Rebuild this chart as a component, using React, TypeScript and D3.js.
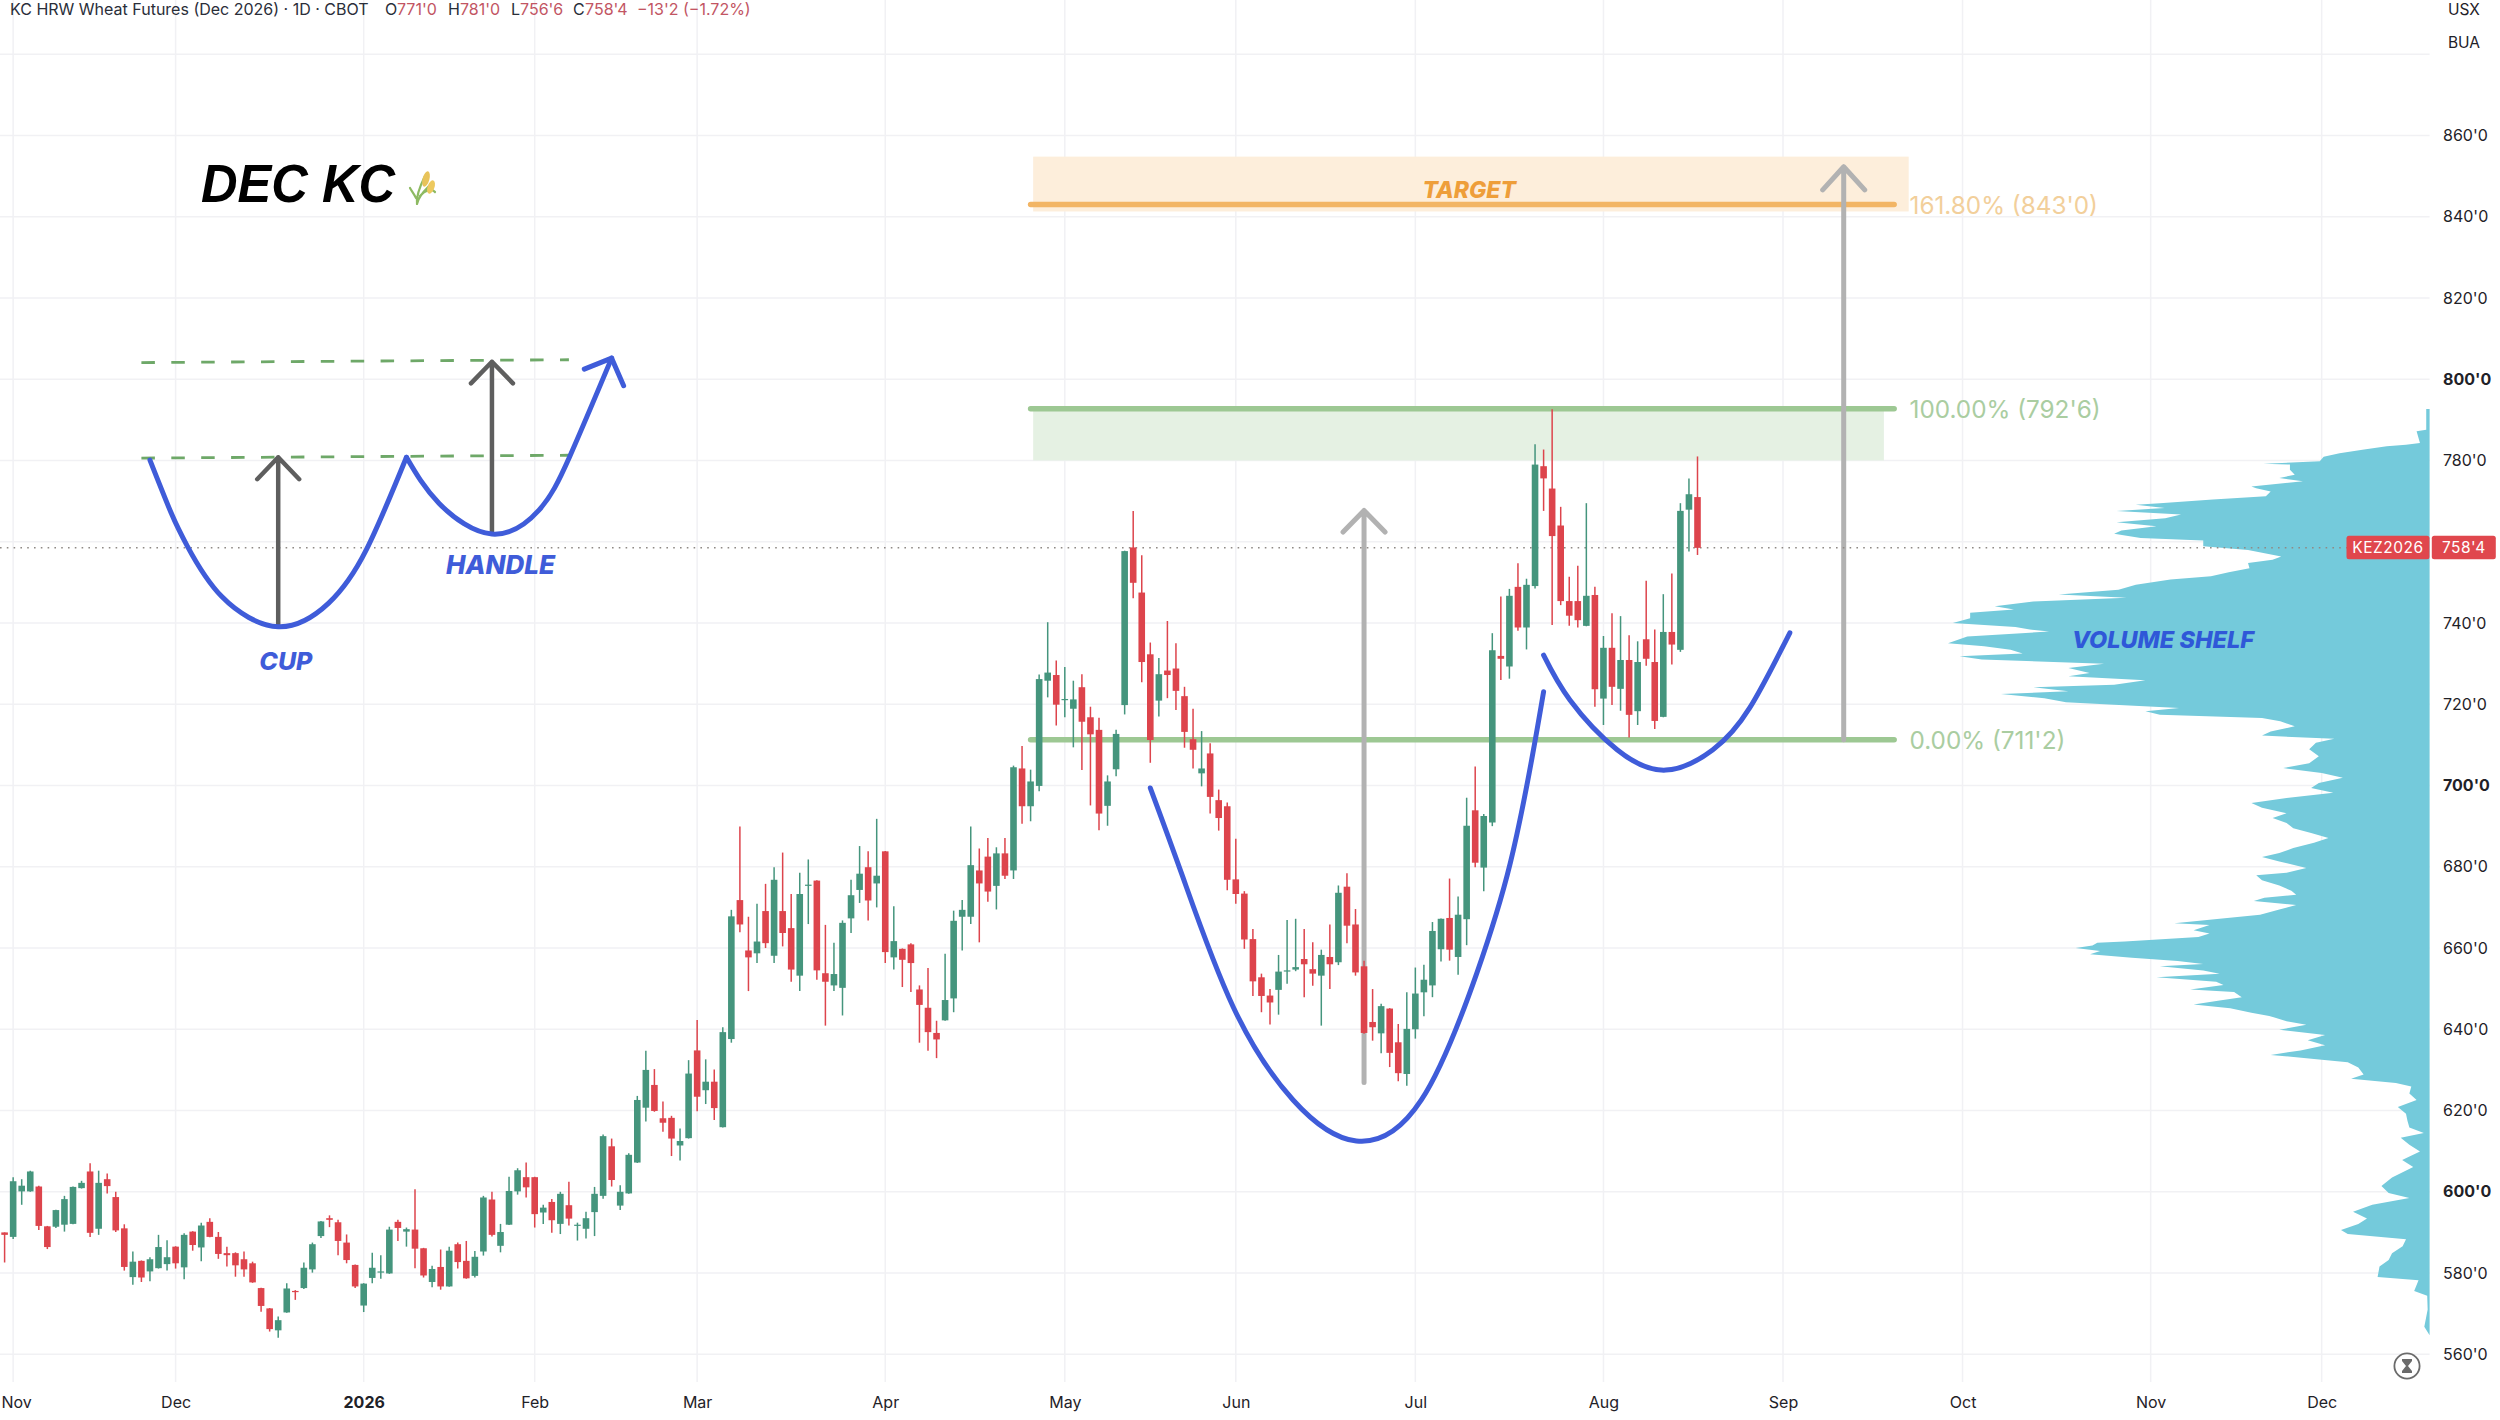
import { useEffect, useRef } from 'react';
import * as d3 from 'd3';

// daily candles, Oct 31 2025 -> last bar
const opens = [
  590,588.9,600.1,600.1,601.3,591.5,591.4,591.9,592.1,600.9,
  605,590.9,603.1,598.7,591,579,583,580.4,581.2,582.2,
  586.5,581.4,590.2,586.3,592.6,588.9,584.9,584.9,583.4,582.4,
  576.3,571.3,565.9,570.3,575.6,576.3,580.9,589.1,593.5,592.5,
  587.5,582,572,578.8,580.3,579.9,592.6,590.2,590.7,586.1,
  577.8,581.5,576.7,587.1,583,579.3,585.3,598.1,586.7,591.9,
  600.1,603.6,603.6,594.9,597.5,592.1,596.7,591.7,590.9,595,
  599,611.2,596.6,599.6,607.2,620.7,626.3,618.1,618.2,611.4,
  613.2,634.8,625,627.1,615.9,637.6,671.8,659.4,658.7,669.1,
  658.1,669.1,664.9,653.2,675.5,676.6,653.8,650.8,650.2,667.3,
  674.3,679.9,675.9,683.8,657.7,659.8,660.9,649.8,645.3,639.1,
  642.2,647.6,667.7,667.7,679.1,682.5,675.3,683.3,679.1,704.2,
  694.9,699.9,725.8,727.2,721.2,718.9,724.2,716.8,713.7,695,
  704,719.8,758.6,747.5,732.3,720.9,728.3,728.8,722,711.4,
  703,707.9,696.4,694.9,676.9,673.4,662.2,652.8,648.3,649.7,
  654.3,654.7,657.3,654.8,653.2,657.8,656.5,675.1,665.8,655.5,
  641.8,639,645.1,636.8,629,640,649.1,650.8,659.7,667.4,
  657.8,667.1,693.9,679.8,690.9,731.9,729.3,748.9,738.9,749.1,
  778.6,773.1,764,745.4,745.4,739.3,746.9,721.4,733.9,723.8,
  730.9,718.3,736,730.4,716.9,737.8,733.4,767.9,771,
];
const highs = [
  590,603.6,603.1,605.2,601.5,591.6,595.6,599,601.3,602.7,
  607,605.2,604.5,600,592,585.3,583.1,583.9,589.4,588.1,
  586.6,589.8,590.3,592.4,593.5,590.1,586.5,585.1,585.3,582.8,
  576.4,571.4,569.3,577.5,575.8,582.6,587.5,592.8,594.2,593.1,
  589.5,582.1,577.5,585,584.4,591.4,593.1,591.2,600.6,586.2,
  581.8,585.8,586.5,587.5,587.9,585.4,599,600,592.1,603.7,
  605.8,607.2,603.7,596.8,598.2,600,602.5,592.4,595.1,601.2,
  614.1,613.1,601.6,609.5,623.6,634.7,630.2,622.2,618.7,615.6,
  632.4,642.3,632.6,630.1,640.5,669.4,689.9,667.7,670.9,675.8,
  679.9,683.5,673.3,678.5,681.8,676.7,665.7,661.3,666.8,676.8,
  685.1,683.8,691.8,683.9,670.3,659.9,661.2,650.8,655.1,642.1,
  658.6,669.2,671.8,689.9,684.5,687.1,684.8,687.1,704.9,709.7,
  703.9,727.3,740.2,730.8,729.2,725.8,727.4,719.4,716.7,702.5,
  713.7,757.8,767.6,756.7,735.2,731.4,740.5,735,724.3,718.9,
  713.4,710.4,699,695.8,686.9,674,664.7,653.7,649.9,658.3,
  666.9,667.2,664.7,661.4,659.6,665.8,675.4,678.4,669.6,656.9,
  649.9,646.3,645.2,641.3,649.1,655.2,655.9,666.4,667.3,677.1,
  672.7,697,704.7,693,737.5,746.5,748.4,754.7,750.9,784,
  782.7,792.6,768.6,751.4,754.1,769.5,748.9,736.8,742.4,741.7,
  737,735.5,750.4,738.4,747.1,752.2,769.5,775.6,781,
];
const lows = [
  582.6,588.4,596.8,600,590.6,585.9,591.1,590.2,592,600.8,
  588.9,589.4,599.6,590.1,580.6,577.1,577.8,578,581.1,580.6,
  581.1,578.5,585.5,582.9,588.8,583.5,581.6,579.1,579.1,577.6,
  570.5,565.6,564.1,570.2,573.4,576.1,580.1,588.6,591.3,584.4,
  582.4,576.3,570.4,577.5,578.6,579.8,587.9,586.5,581.2,578.9,
  576.5,575.9,576.6,581.1,578.6,578.9,584.3,589,585.1,591.8,
  599.3,598.6,591.2,592.1,589.9,589.6,591.7,588,588.5,589.1,
  598.3,601.3,595.5,599.5,607.1,617.3,619.7,614.8,608.8,607.7,
  613.1,619.8,621.6,617.7,615.8,636.7,663.9,649.4,656.3,660,
  656.3,660.4,651.7,649.4,665.9,652.2,640.9,649.4,643.4,663.7,
  671.1,666.8,670,656.3,654.7,650.4,649.2,636.7,634.7,632.9,
  642.1,644.2,659.4,665.9,661.4,671.4,669.5,677,677,690.6,
  691.2,698.6,721.7,714.8,716.8,709.4,703.8,695.1,689,690.1,
  702.3,717.5,746.1,725.4,705.6,717,721.5,718.6,709.3,704.2,
  699.8,693.1,688.9,674.2,670.9,659.8,648.2,644.2,641.2,643.6,
  651.2,654.3,647.9,650.7,640.9,649.9,655.8,661.2,653.2,638.9,
  637.2,634.1,630.7,627.2,626.1,637.7,643.2,647.9,656.7,656.9,
  653.4,660.7,679.9,674,690,726,726.3,738.1,733.5,748.5,
  767.6,739.5,744.4,739.3,738.9,739.2,719.4,714.9,719.8,718.4,
  711.8,714.9,729.5,713.9,716.8,729.8,732.9,757.6,756.75,
];
const closes = [
  589.4,602.6,601.5,605,591.6,586.4,595.5,598.2,601.2,602.2,
  589.9,602.2,601.4,590.5,581.5,582.8,578.9,583.4,586.4,583.9,
  582.4,589.4,586.9,591.7,588.9,584.7,584.4,581.9,580.9,577.7,
  571.9,566.2,568.4,576.2,575.3,581.3,587.1,592.7,593.1,587.9,
  583.2,576.7,577.4,581.3,580.4,590.7,591.1,590.8,586,579.4,
  581,576.7,585.5,582.7,578.7,584,598.6,589.4,590.1,600.2,
  605.3,601.1,594.5,596.1,593,599.5,593.4,591.9,593.5,599.5,
  613.7,602.9,600,609.1,622.6,630,619.9,617,613.1,612.5,
  629.1,623.4,627.1,620.6,639.3,667.8,665.8,657.7,661.6,661.2,
  676.8,663.7,654.7,673.3,675.6,654.5,651.7,653.6,666.2,673,
  678.3,671.7,677.8,659,661.7,657.1,656.3,646,639.3,637.5,
  647.2,666.7,669.4,680.4,675.9,673.9,683.3,677.8,704.5,694.9,
  701,726.2,727.8,719.9,721.3,721.2,715.7,712.6,693.1,701,
  712.7,757.7,749.9,730.4,711.2,727.4,727.2,723.3,713.2,708.8,
  704.2,697.2,692,676.8,673.3,662.1,651.8,648.2,646.6,654.2,
  654.5,655.3,656,653.7,658.3,656,673.6,665.5,654,639.1,
  640.5,645.7,634.2,629.2,640.1,648.8,652.2,664.2,667.2,659.6,
  668.2,690.1,681,692.5,733.3,731.2,746.7,738.9,749.4,779,
  775.6,761.4,745.4,741.8,740.7,746.7,723.7,733.9,724.3,730.9,
  717.4,730.4,731.2,715.9,737.8,734.7,767.6,771.7,758.5,
];

// volume profile, top to bottom (100 = widest row)
const profilePrices = [
  792.7,787.6,787.2,784.3,783.9,783.5,782.7,781.8,780.9,779.8,779.2,779,777.7,776.5,775.7,774.9,773.6,773.2,772.4,771.2,
  770.4,769.5,769.1,768.3,767.6,766.7,765.8,764.8,763.8,762.8,762,760.9,760.3,758.9,758,756.4,755.6,754.8,753.5,752.5,
  751.5,750.7,749.4,748.2,747,746.2,745.3,744.1,743.3,742.5,741.2,740,739,738.4,737.9,736.7,735,734.3,733.4,732.5,
  731.8,731,730,728.9,727.7,726.9,725.9,724.8,724.2,723.2,722.5,721.5,720.5,719.9,719.1,718.3,717.4,716.6,715.8,714.6,
  713.3,712.3,711.5,710.5,708.9,707.2,705.5,704.3,703.1,701.9,700.6,699.4,698.2,696.9,695.7,694.5,693.2,692,690.8,689.5,
  688.3,687.1,685.9,684.6,683.4,682.4,681.3,679.7,678.5,677.9,676.7,675.4,674.1,673.1,672.4,671.6,670.6,669.5,668.2,667.2,
  666.1,665.7,664.4,663.6,662.7,661.6,661.3,660.6,660,659.3,658.5,657.6,656.8,656.1,655.5,654.5,653.7,652.8,651.7,650.9,
  649.8,649.2,647.9,647.1,646.1,645.2,644.1,643.3,642,641.1,639.9,638.6,637.3,636.1,634.8,633.7,632.7,631.9,630.6,628.9,
  627.8,626.8,625.9,624.2,622.6,620.9,619.2,617.5,615.8,614.5,613.3,611.6,609.9,607.8,606.1,603.5,601.4,599.7,598.5,596.8,
  595.1,593.4,592.1,590.6,589.6,588.3,586.6,584.9,583.2,581.6,579,578.2,575.6,574.4,571,566.8,564.7,
];
const profileVolumes = [
  0.7,0.7,2.7,2,4.9,8.9,13.6,18.7,22,22.8,34.5,29,29,28,31.2,26.3,37,36,33,34,
  45,56,61,55,65,51.6,54.9,65,56.7,64,65.5,60,47,47,37.7,30.8,32.6,37.7,37.4,41.7,
  45.4,53.8,61,64.6,77,62.9,82.3,90.3,86.3,95.4,95.4,99,86,83,79,96,100,92.5,87,84.5,
  97.6,93,67.6,75,70.6,75,59,65.5,82.3,75,89,80,75.5,65.5,52,59,56,34.8,31,28,
  33,34.8,19.8,23.6,25,23,25,30.4,22.4,18,23,24.6,20,29.7,37,34.8,29.7,32.6,29.7,28.3,
  24.6,21,24,28.3,31.2,34.8,31.2,25.6,29.7,36,34.8,31.2,28.7,27.7,34.3,36.5,27.7,31.2,35.2,43.6,
  53,45.7,49,45.7,48,63.3,69,70,73.5,68.4,70.5,61.8,52.3,47,56,47,43.6,56.7,44.3,42.8,
  49.7,40.6,39,43.6,49,41.4,37,33.3,29.7,25.6,31.2,21.7,25.3,21.7,26.8,33,24,17,14.8,13.7,
  16.3,7,3.8,4.2,2.7,6.6,4.9,4.6,4.2,1.2,6,4.2,2,5.7,3.4,7.8,10,8.5,4.2,11.9,
  15.9,13,14.8,18.4,17,4.9,5.6,7.8,8.5,10.4,10.8,2.3,3.2,0.5,0.4,1.1,0,
];

// axis ticks
const priceTicks = [560,580,600,620,640,660,680,700,720,740,760,780,800,820,840,860,880];
const priceLabels = [560,580,600,620,640,660,680,700,720,740,780,800,820,840,860];
const boldPrices = [600,700,800];
const monthIndex = [1,20,42,62,81,103,124,144,165,187,208,229,251,271];
const monthLabels = ['Nov','Dec','2026','Feb','Mar','Apr','May','Jun','Jul','Aug','Sep','Oct','Nov','Dec'];

// drawings, as [bar index, price]
const bigCup = [[134,699.4],[137.8,677.5],[143.7,645.5],[150.7,622.6],[158.1,612.5],[165.7,622.6],[172.2,653.9],[176.1,680.9],[178.6,706.3],[180,723.1]];
const bigHandle = [[180,732.1],[183.1,721],[188.6,708.8],[194.3,703.8],[199.8,708.8],[204.1,719.1],[208.8,737.6]];
const miniCup = [[17,780.1],[19.5,767],[21.4,758.8],[25.4,746.5],[32,739.1],[37.9,744.9],[42.3,758],[47,780.8]];
const miniHandle = [[47,780.8],[50.8,769.5],[57,761.9],[62.5,767.8],[66.1,781],[71,805.2]];
const miniHead = [[67.8,802.5],[71,805.2],[72.4,798.4]];
const miniDashes = [[[16,780.6],[66,781.3]],[[16,804.1],[66,804.8]]];
const grayArrows = [
  { i: 159, from: 626.9, to: 767.7, wing: 762.4 },
  { i: 215.1, from: 711.25, to: 852.3, wing: 846.6 },
];
const darkArrows = [
  { i: 32, from: 739.5, to: 780.8, wing: 775.4 },
  { i: 57, from: 762.5, to: 804.3, wing: 799 },
];

const fibLevels = [
  { price: 843, label: "161.80% (843'0)", color: '#f2b565', text: '#f2cf9b' },
  { price: 792.75, label: "100.00% (792'6)", color: '#9dc893', text: '#aacda1' },
  { price: 711.25, label: "0.00% (711'2)", color: '#9dc893', text: '#aacda1' },
];
const lastPrice = 758.5;

const GREEN = '#45957d';
const RED = '#dd444c';
const BLUE = '#3f5cd9';
const FONT = 'Inter, "Liberation Sans", sans-serif';

const App = () => {
  const svgRef = useRef<SVGSVGElement>(null);

  useEffect(() => {
    if (!svgRef.current) return;
    const svg = d3.select(svgRef.current);
    svg.selectAll('*').remove();

    const x = d3.scaleLinear().domain([0, 198]).range([4.6, 1697.5]);
    const y = d3.scaleLinear().domain([560, 860]).range([1354.3, 135.5]);
    const axisRight = 2429.6;

    // grid
    const grid = svg.append('g').attr('stroke', '#f1f1f4').attr('stroke-width', 1.5);
    grid.selectAll('.h').data(priceTicks).enter().append('line')
      .attr('x1', 0).attr('x2', axisRight).attr('y1', d => y(d)).attr('y2', d => y(d));
    grid.selectAll('.v').data(monthIndex).enter().append('line')
      .attr('x1', d => x(d)).attr('x2', d => x(d)).attr('y1', 0).attr('y2', 1382);

    // zones
    svg.append('rect').attr('x', x(120.3)).attr('width', x(219.8) - x(120.3))
      .attr('y', y(792.75)).attr('height', y(780) - y(792.75)).attr('fill', '#e5f1e3');
    svg.append('rect').attr('x', x(120.3)).attr('width', x(222.7) - x(120.3))
      .attr('y', y(854.8)).attr('height', y(841.3) - y(854.8)).attr('fill', '#fdeedb');

    // fib levels
    const fibs = svg.append('g');
    fibs.selectAll('line').data(fibLevels).enter().append('line')
      .attr('x1', x(120)).attr('x2', x(221))
      .attr('y1', d => y(d.price)).attr('y2', d => y(d.price))
      .attr('stroke', d => d.color).attr('stroke-width', 5.5).attr('stroke-linecap', 'round');
    fibs.selectAll('text').data(fibLevels).enter().append('text')
      .attr('x', x(222.8)).attr('y', d => y(d.price) + 9)
      .attr('font-family', FONT).attr('font-size', 24.3).attr('fill', d => d.text)
      .text(d => d.label);

    // gray measured moves
    const arrow = (g: any, a: any, color: string, w: number) => {
      g.append('path')
        .attr('d', `M${x(a.i)},${y(a.from)}V${y(a.to)}M${x(a.i) - 21},${y(a.wing)}L${x(a.i)},${y(a.to)}L${x(a.i) + 21},${y(a.wing)}`)
        .attr('fill', 'none').attr('stroke', color).attr('stroke-width', w)
        .attr('stroke-linecap', 'round').attr('stroke-linejoin', 'round');
    };
    grayArrows.forEach(a => arrow(svg, a, '#b2b2b2', 5));

    // volume profile
    const vol = d3.scaleLinear().domain([0, 100]).range([axisRight, 1948]);
    const rows = profilePrices.map((p, i) => ({ p, v: profileVolumes[i] }));
    const profile = d3.area<{ p: number; v: number }>()
      .y(d => y(d.p)).x0(axisRight).x1(d => vol(d.v));
    svg.append('path').attr('d', profile(rows)).attr('fill', '#74cadb');

    // last price line
    svg.append('line').attr('x1', 0).attr('x2', 2347)
      .attr('y1', y(lastPrice)).attr('y2', y(lastPrice))
      .attr('stroke', '#8f8a86').attr('stroke-width', 1.5).attr('stroke-dasharray', '1.6 5.2');

    // candles
    const idx = d3.range(opens.length);
    const candles = svg.append('g');
    candles.selectAll('.wick').data(idx).enter().append('line')
      .attr('x1', d => x(d)).attr('x2', d => x(d))
      .attr('y1', d => y(highs[d])).attr('y2', d => y(lows[d]))
      .attr('stroke', d => closes[d] >= opens[d] ? GREEN : RED).attr('stroke-width', 1.5);
    candles.selectAll('.body').data(idx).enter().append('rect')
      .attr('x', d => x(d) - 3.3).attr('width', 6.6)
      .attr('y', d => y(Math.max(opens[d], closes[d])))
      .attr('height', d => Math.max(1.2, Math.abs(y(opens[d]) - y(closes[d]))))
      .attr('fill', d => closes[d] >= opens[d] ? GREEN : RED);

    // pattern sketches
    const curve = d3.line<number[]>().x(d => x(d[0])).y(d => y(d[1])).curve(d3.curveNatural);
    const straight = d3.line<number[]>().x(d => x(d[0])).y(d => y(d[1]));
    miniDashes.forEach(d => {
      svg.append('path').attr('d', straight(d)).attr('fill', 'none')
        .attr('stroke', '#6ea868').attr('stroke-width', 2.8).attr('stroke-dasharray', '13.5 16.4');
    });
    darkArrows.forEach(a => arrow(svg, a, '#5e5e5e', 4.5));
    [bigCup, bigHandle, miniCup, miniHandle].forEach(pts => {
      svg.append('path').attr('d', curve(pts)).attr('fill', 'none')
        .attr('stroke', BLUE).attr('stroke-width', 5).attr('stroke-linecap', 'round');
    });
    svg.append('path').attr('d', straight(miniHead)).attr('fill', 'none')
      .attr('stroke', BLUE).attr('stroke-width', 5).attr('stroke-linecap', 'round').attr('stroke-linejoin', 'round');

    // labels on the drawings
    const italic = (t: string, px: number, baseline: number, size: number, color: string) =>
      svg.append('text').attr('x', px).attr('y', baseline).attr('text-anchor', 'middle')
        .attr('font-family', FONT).attr('font-size', size).attr('font-weight', 800)
        .attr('font-style', 'italic').attr('fill', color).text(t);
    italic('CUP', x(32.9), y(728.4), 25, BLUE);
    italic('HANDLE', x(58), y(752.1), 26, BLUE);
    italic('VOLUME SHELF', 2163, y(733.9), 23.5, '#2f58d8');
    italic('TARGET', x(171.3), y(844.6), 23, '#ee9e3a');

    svg.append('text').attr('x', 201).attr('y', 202)
      .attr('font-family', '"Liberation Sans", Arial, sans-serif').attr('font-size', 53)
      .attr('font-weight', 700).attr('font-style', 'italic').attr('fill', '#000')
      .attr('textLength', 194).attr('lengthAdjust', 'spacingAndGlyphs').text('DEC KC');

    // wheat emoji
    const wheat = svg.append('g').attr('transform', 'translate(408,168)');
    wheat.append('path').attr('d', 'M9,36C8,28 12,18 17,8M9,36C10,30 15,24 21,18M8,30C6,26 3,22 2,20M12,28C17,22 24,20 27,24')
      .attr('fill', 'none').attr('stroke', '#8dba62').attr('stroke-width', 2.2).attr('stroke-linecap', 'round');
    wheat.append('ellipse').attr('rx', 3.4).attr('ry', 8).attr('transform', 'translate(18,11) rotate(15)').attr('fill', '#e8c35a');
    wheat.append('ellipse').attr('rx', 3.4).attr('ry', 7).attr('transform', 'translate(23,19) rotate(20)').attr('fill', '#edc95f');

    // header legend
    const header = svg.append('g').attr('font-family', FONT).attr('font-size', 16);
    const headerText = (px: number, t: string, color: string) =>
      header.append('text').attr('x', px).attr('y', 15).attr('fill', color).text(t);
    headerText(10, 'KC HRW Wheat Futures (Dec 2026) · 1D · CBOT', '#2a2e39');
    [[385, 'O', 397, "771'0"], [448, 'H', 460, "781'0"], [511, 'L', 520, "756'6"], [573, 'C', 585, "758'4"]]
      .forEach(([a, k, b, v]: any) => {
        headerText(a, k, '#2a2e39');
        headerText(b, v, '#c25563');
      });
    headerText(637, "−13'2 (−1.72%)", '#c25563');

    // price axis
    const yAxis = svg.append('g').attr('transform', 'translate(2443,0)')
      .call(d3.axisRight(y).tickValues(priceLabels).tickSize(0).tickPadding(0).tickFormat(d => `${d}'0`));
    yAxis.select('.domain').remove();
    yAxis.selectAll('text').attr('font-family', FONT).attr('font-size', 16).attr('fill', '#1f2228')
      .attr('font-weight', (d: any) => boldPrices.includes(d) ? 700 : 400);

    // time axis
    const xAxis = svg.append('g').attr('transform', 'translate(0,1397)')
      .call(d3.axisBottom(x).tickValues(monthIndex).tickSize(0).tickPadding(0).tickFormat((_, i) => monthLabels[i]));
    xAxis.select('.domain').remove();
    xAxis.selectAll('text').attr('font-family', FONT).attr('font-size', 16).attr('fill', '#1f2228')
      .attr('font-weight', (_: any, i: number) => monthLabels[i] === '2026' ? 700 : 400)
      .attr('dx', (_: any, i: number) => i === 0 ? 3 : 0); // first label sits on the left edge

    // symbol tags, top right
    svg.append('rect').attr('x', 2437).attr('y', -6).attr('width', 57).attr('height', 64).attr('rx', 6).attr('fill', '#fff');
    ['USX', 'BUA'].forEach((t, i) => {
      svg.append('text').attr('x', 2464).attr('y', 14.5 + i * 33.5).attr('text-anchor', 'middle')
        .attr('font-family', FONT).attr('font-size', 15.5).attr('fill', '#1f2228').text(t);
    });

    // last price tags
    const tagY = y(lastPrice);
    [[2346.5, 83, 'KEZ2026'], [2431.8, 64, "758'4"]].forEach(([px, w, t]: any) => {
      svg.append('rect').attr('x', px).attr('y', tagY - 12).attr('width', w).attr('height', 23.5).attr('rx', 2.5).attr('fill', '#e0474d');
      svg.append('text').attr('x', px + w / 2).attr('y', tagY + 5.5).attr('text-anchor', 'middle')
        .attr('font-family', FONT).attr('font-size', 15.5).attr('letter-spacing', 0.5).attr('fill', '#fff').text(t);
    });

    // replay badge
    const badge = svg.append('g').attr('transform', 'translate(2407,1366)');
    badge.append('circle').attr('r', 12.6).attr('fill', '#fff').attr('stroke', '#6b6b6b').attr('stroke-width', 1.8);
    badge.append('path').attr('d', 'M-5,-7H5V-5L1,0L5,5V7H-5V5L-1,0L-5,-5Z').attr('fill', '#6b6b6b');
  }, []);

  return (
    <svg
      ref={svgRef}
      width={2500}
      height={1420}
      style={{ position: 'fixed', left: 0, top: 0, background: '#fff' }}
    />
  );
};

export default App;
